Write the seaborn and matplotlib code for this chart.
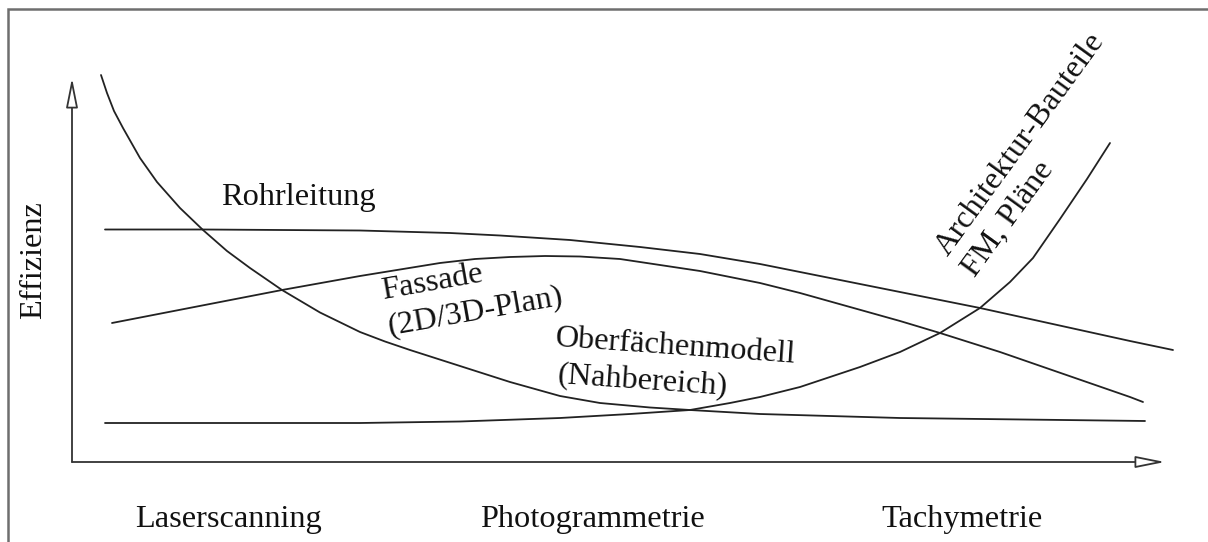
import numpy as np
import pandas as pd
import matplotlib
matplotlib.use('Agg')
import matplotlib.pyplot as plt
from matplotlib.patches import Rectangle
import seaborn as sns

# Kurven (x: Verfahren-Achse, y: Effizienz)
rohr_x = [33, 131, 288, 378, 428, 498, 568, 628, 688, 758, 828, 908, 1058, 1101]
rohr_y = [232.5, 232.5, 231.5, 229, 226.5, 222, 215, 208, 198, 184, 170, 154, 121, 112]

fassade_x = [40, 210, 288, 368, 403, 438, 473, 508, 548, 588, 628, 688, 728, 778, 828, 868,
             928, 1058, 1071]
fassade_y = [139, 172, 186, 199, 203, 205, 206, 205.5, 203, 197, 191, 179, 169, 155, 141, 129,
             110, 65, 60]

nah_x = [29, 35, 42, 51, 68, 85, 108, 131, 155, 178, 210, 248, 288, 313, 338, 388, 438, 488,
         528, 578, 618, 688, 828, 1073]
nah_y = [387, 369, 351, 334, 304, 280, 254, 232, 211, 194, 172, 149.5, 130, 120.5, 112, 96, 80,
         66, 59, 54.5, 52, 48, 44, 41]

archi_x = [33, 288, 388, 488, 558, 618, 658, 688, 728, 788, 828, 868, 908, 938, 961, 988,
           1015, 1038]
archi_y = [39, 39, 40.5, 44, 48, 52, 59, 65, 75, 95, 110, 129, 154, 180, 204, 243, 283, 319]

verfahren = ['Laserscanning', 'Photogrammetrie', 'Tachymetrie']
verfahren_x = [156, 520, 890]

sns.set_theme(style='white')
plt.rcParams['font.family'] = ['Liberation Serif', 'DejaVu Serif']

df = pd.concat([
    pd.DataFrame({'x': rohr_x, 'y': rohr_y, 'kurve': 'Rohrleitung'}),
    pd.DataFrame({'x': fassade_x, 'y': fassade_y, 'kurve': 'Fassade'}),
    pd.DataFrame({'x': nah_x, 'y': nah_y, 'kurve': 'Nahbereich'}),
    pd.DataFrame({'x': archi_x, 'y': archi_y, 'kurve': 'Architektur'}),
], ignore_index=True)

fig = plt.figure(figsize=(12.08, 5.42), dpi=100)
ax = fig.add_axes([72 / 1208, 80 / 542, 1093 / 1208, 384 / 542])

sns.lineplot(data=df, x='x', y='y', units='kurve', estimator=None, sort=False,
             color='#222222', linewidth=1.3, ax=ax, legend=False)
for line in ax.lines:
    line.set_clip_on(False)
    line.set_solid_joinstyle('round')

ax.set_xlim(0, 1093)
ax.set_ylim(0, 384)
ax.set_axis_off()

# Achsenpfeile (offene Spitze)
arrow = dict(arrowstyle='-|>,head_length=0.9,head_width=0.18', mutation_scale=20,
             fc='white', ec='#333333', lw=1.3, shrinkA=0, shrinkB=0)
ax.annotate('', xy=(1093, 0), xytext=(0, 0), arrowprops=arrow, annotation_clip=False)
ax.annotate('', xy=(0, 384), xytext=(0, 0), arrowprops=arrow, annotation_clip=False)

fs = 23.3
txt = dict(fontsize=fs, color='#111111')
for name, xpos in zip(verfahren, verfahren_x):
    ax.text(xpos, -58, name, ha='center', va='center', **txt)

ax.text(-38, 202, 'Effizienz', rotation=90, ha='center', va='center', **txt)
ax.text(149, 257, 'Rohrleitung', ha='left', va='baseline', **txt)

ax.text(311, 163, 'Fassade', rotation=10, rotation_mode='anchor',
        ha='left', va='baseline', **txt)
ax.text(317, 128, '(2D/3D-Plan)', rotation=10, rotation_mode='anchor',
        ha='left', va='baseline', **txt)

ax.text(483, 116, 'Oberfächenmodell', rotation=-4, rotation_mode='anchor',
        ha='left', va='baseline', **txt)
ax.text(485, 79, '(Nahbereich)', rotation=-4, rotation_mode='anchor',
        ha='left', va='baseline', **txt)

ax.text(876, 205, 'Architektur-Bauteile', rotation=54, rotation_mode='anchor',
        ha='left', va='baseline', **txt)
ax.text(903, 184, 'FM, Pläne', rotation=54, rotation_mode='anchor',
        ha='left', va='baseline', **txt)

# grauer Rahmen (rechts/unten abgeschnitten)
fig.patches.append(Rectangle((8 / 1208, -0.1), 1.2, 1.1 - 9 / 542, transform=fig.transFigure,
                             fill=False, ec='#6e6e6e', lw=1.8, clip_on=False))

fig.savefig('out.png', dpi=100)
